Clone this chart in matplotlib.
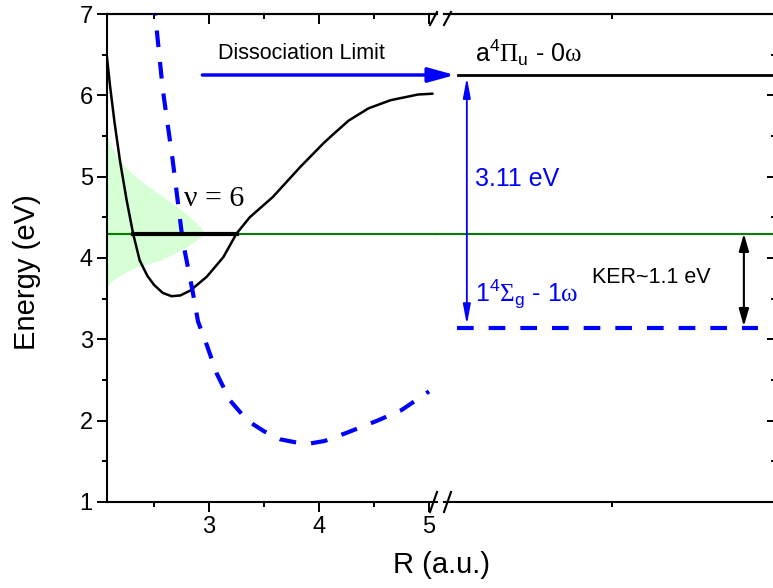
import matplotlib
matplotlib.use('Agg')
import matplotlib.pyplot as plt
from matplotlib.ticker import MultipleLocator, FixedLocator, NullLocator

plt.rcParams['font.family'] = ['Liberation Sans', 'DejaVu Sans']
plt.rcParams['mathtext.fontset'] = 'custom'
plt.rcParams['mathtext.rm'] = 'Liberation Sans'
plt.rcParams['mathtext.it'] = 'Liberation Sans:italic'
plt.rcParams['mathtext.sf'] = 'Liberation Serif'

# a4Pi_u potential curve (solid black)
r_pi = [2.07, 2.10, 2.14, 2.19, 2.25, 2.31, 2.37, 2.44, 2.50, 2.58, 2.66, 2.74, 2.83,
        2.98, 3.13, 3.25, 3.37, 3.58, 3.83, 4.04, 4.12, 4.27, 4.45, 4.65, 4.90, 5.03]
e_pi = [6.50, 6.12, 5.68, 5.20, 4.72, 4.30, 3.97, 3.78, 3.67, 3.57, 3.53, 3.54, 3.60,
        3.77, 4.01, 4.30, 4.50, 4.75, 5.12, 5.41, 5.51, 5.69, 5.84, 5.94, 6.01, 6.02]

# 1 4Sigma_g - 1w dressed curve (blue dashed)
r_sig = [2.49, 2.51, 2.58, 2.67, 2.76, 2.85, 2.90, 2.98, 3.07, 3.19, 3.35, 3.50,
         3.65, 3.80, 3.92, 4.05, 4.25, 4.53, 4.75, 5.00]
e_sig = [7.25, 7.00, 6.07, 5.20, 4.22, 3.60, 3.22, 2.93, 2.58, 2.25, 2.00, 1.87,
         1.77, 1.73, 1.72, 1.75, 1.85, 2.00, 2.13, 2.36]

# vibrational wavefunction (green shade), drawn sideways
e_wave = [3.64, 3.73, 3.81, 3.89, 3.97, 4.05, 4.13, 4.22, 4.31, 4.40, 4.50,
          4.60, 4.70, 4.80, 4.92, 5.05, 5.20, 5.35, 5.51]
r_wave = [2.07, 2.13, 2.22, 2.34, 2.55, 2.68, 2.79, 2.89, 2.96, 2.91, 2.83,
          2.74, 2.64, 2.53, 2.41, 2.29, 2.19, 2.12, 2.07]

e_v6 = 4.30
r_v6 = [2.31, 3.25]
e_limit = 6.25
e_sig_level = 3.14

# right (asymptotic) section, position in fraction of that panel
x_limit = [0.042, 1.0]
x_sig_level = [0.039, 0.949]
x_arrow_tip = 0.033
r_arrow_start = 2.94
x_gap_arrow = 0.069
x_ker = 0.906
x_right_tick = [0.508]

W, H = 773, 588
fig = plt.figure(figsize=(W / 100, H / 100), dpi=100)
ax1 = fig.add_axes([107 / W, 86 / H, 330 / W, 488 / H])
ax2 = fig.add_axes([444 / W, 86 / H, 331 / W, 488 / H])

blue = '#0000ff'
green = '#008000'

for ax in (ax1, ax2):
    ax.set_ylim(1, 7)
    for s in ax.spines.values():
        s.set_linewidth(1.5)
ax1.set_xlim(2.0727, 5.0727)
ax2.set_xlim(0, 1)
ax1.spines['right'].set_visible(False)
ax2.spines['left'].set_visible(False)

# left panel ticks
ax1.xaxis.set_major_locator(MultipleLocator(1))
ax1.xaxis.set_minor_locator(MultipleLocator(0.5))
ax1.yaxis.set_major_locator(MultipleLocator(1))
ax1.yaxis.set_minor_locator(MultipleLocator(0.5))
ax1.tick_params(which='major', direction='out', length=7.2, width=1.4, labelsize=17, pad=3)
ax1.tick_params(which='minor', direction='out', length=3.6, width=1.4)
ax1.tick_params(top=False, right=False, which='both')
top1 = ax1.secondary_xaxis('top')
top1.xaxis.set_major_locator(MultipleLocator(1))
top1.xaxis.set_minor_locator(MultipleLocator(0.5))
top1.tick_params(which='major', direction='in', length=7.2, width=1.4, labeltop=False)
top1.tick_params(which='minor', direction='in', length=3.6, width=1.4)
top1.spines['top'].set_linewidth(1.5)

# right panel ticks
ax2.xaxis.set_major_locator(NullLocator())
ax2.xaxis.set_minor_locator(FixedLocator(x_right_tick))
ax2.tick_params(axis='x', which='minor', direction='out', length=3.6, width=1.4)
top2 = ax2.secondary_xaxis('top')
top2.xaxis.set_major_locator(NullLocator())
top2.xaxis.set_minor_locator(FixedLocator(x_right_tick))
top2.tick_params(which='minor', direction='in', length=3.6, width=1.4)
top2.spines['top'].set_linewidth(1.5)
ax2.yaxis.tick_right()
ax2.yaxis.set_major_locator(MultipleLocator(1))
ax2.yaxis.set_minor_locator(MultipleLocator(0.5))
ax2.tick_params(axis='y', which='major', direction='in', length=5.8, width=1.4, labelright=False)
ax2.tick_params(axis='y', which='minor', direction='in', length=2.9, width=1.4)

# curves
ax1.plot(r_pi, e_pi, color='k', lw=1.8)
ax1.plot(r_sig, e_sig, color=blue, lw=3, dashes=(4, 3.6))
ax1.fill_betweenx(e_wave, r_wave[0], r_wave, color=(0, 1, 0), alpha=0.16, lw=0)
ax1.axhline(e_v6, color=green, lw=1.5)
# the v=6 level line runs on through the axis break
ax2.plot([-8 / 331, 1], [e_v6, e_v6], color=green, lw=1.5, clip_on=False)
ax1.plot(r_v6, [e_v6, e_v6], color='k', lw=3)

ax2.plot(x_limit, [e_limit, e_limit], color='k', lw=2)
ax2.plot(x_sig_level, [e_sig_level, e_sig_level], color=blue, lw=3, dashes=(4, 3.6))

# arrows
ax2.annotate('', xy=(x_arrow_tip, e_limit), xytext=(r_arrow_start, e_limit),
             textcoords=ax1.transData,
             arrowprops=dict(arrowstyle='-|>,head_length=0.8,head_width=0.22',
                             mutation_scale=20, lw=2.5, color=blue, shrinkA=0, shrinkB=0))
ax2.annotate('', xy=(x_gap_arrow, e_sig_level + 0.04), xytext=(x_gap_arrow, e_limit - 0.03),
             arrowprops=dict(arrowstyle='<|-|>,head_length=0.8,head_width=0.15',
                             mutation_scale=15, lw=1.3, color=blue, shrinkA=0, shrinkB=0))
ax2.annotate('', xy=(x_ker, e_sig_level + 0.02), xytext=(x_ker, e_v6),
             arrowprops=dict(arrowstyle='<|-|>,head_length=0.7,head_width=0.2',
                             mutation_scale=15, lw=1.5, color='k', shrinkA=0, shrinkB=0))

# labels
ax1.text(3.08, 6.52, 'Dissociation Limit', fontsize=15.5, va='center')
ax1.text(2.77, 4.72, 'ν = 6', family='Liberation Serif', fontsize=21.5, va='center')
ax2.text(0.094, 6.41, r'a$^{4}\mathsf{\Pi}_{\mathrm{u}}$ - 0$\mathsf{\omega}$',
         fontsize=18, va='baseline')
ax2.text(0.094, 4.97, '3.11 eV', color=blue, fontsize=18, va='center')
ax2.text(0.094, 3.46, r'1$^{4}\mathsf{\Sigma}_{\mathrm{g}}$ - 1$\mathsf{\omega}$',
         color=blue, fontsize=18, va='baseline')
ax2.text(0.447, 3.76, 'KER~1.1 eV', fontsize=15.5, va='center')

# axis break marks
dx1, dx2 = 7 / 330, 7 / 331
ax1.plot([1 - dx1, 1], [-10 / 488, 10 / 488], transform=ax1.transAxes, color='k', lw=1.5, clip_on=False)
ax1.plot([1 - dx1, 1], [1 - 11 / 488, 1 + 2 / 488], transform=ax1.transAxes, color='k', lw=1.5, clip_on=False)
ax2.plot([0, dx2], [-10 / 488, 10 / 488], transform=ax2.transAxes, color='k', lw=1.5, clip_on=False)
ax2.plot([0, dx2], [1 - 11 / 488, 1 + 2 / 488], transform=ax2.transAxes, color='k', lw=1.5, clip_on=False)

fig.text(27 / W, 1 - 272 / H, 'Energy (eV)', rotation=90, ha='center', va='center', fontsize=21)
fig.text(442 / W, 1 - 565 / H, 'R (a.u.)', ha='center', va='center', fontsize=21)

fig.savefig('out.png', dpi=100)
